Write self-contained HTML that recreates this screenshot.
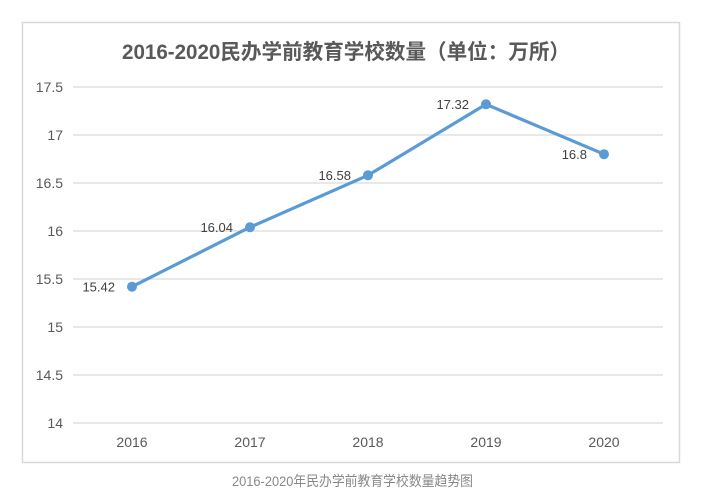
<!DOCTYPE html>
<html>
<head>
<meta charset="utf-8">
<style>
  html, body { margin: 0; padding: 0; background: #ffffff; }
  body { width: 708px; height: 504px; overflow: hidden; }
  svg { display: block; }
  text { font-family: "Liberation Sans", "Noto Sans CJK SC", sans-serif; }
</style>
</head>
<body>
<svg width="708" height="504" viewBox="0 0 708 504" xmlns="http://www.w3.org/2000/svg">
  <rect x="0" y="0" width="708" height="504" fill="#ffffff"/>
  <!-- chart border -->
  <rect x="22.5" y="22.5" width="657" height="440" fill="#ffffff" stroke="#d9d9d9" stroke-width="1.5"/>

  <!-- title -->
  <text x="122" y="59" font-size="21" font-weight="bold" fill="#595959" textLength="448" lengthAdjust="spacingAndGlyphs">2016-2020民办学前教育学校数量（单位：万所）</text>

  <!-- gridlines -->
  <g stroke="#d9d9d9" stroke-width="1.3">
    <line x1="73" y1="87" x2="663" y2="87"/>
    <line x1="73" y1="135" x2="663" y2="135"/>
    <line x1="73" y1="183" x2="663" y2="183"/>
    <line x1="73" y1="231" x2="663" y2="231"/>
    <line x1="73" y1="279" x2="663" y2="279"/>
    <line x1="73" y1="327" x2="663" y2="327"/>
    <line x1="73" y1="375" x2="663" y2="375"/>
    <line x1="73" y1="423" x2="663" y2="423"/>
  </g>

  <!-- y labels -->
  <g font-size="14" fill="#595959" text-anchor="end">
    <text x="63" y="92">17.5</text>
    <text x="63" y="140">17</text>
    <text x="63" y="188">16.5</text>
    <text x="63" y="236">16</text>
    <text x="63" y="284">15.5</text>
    <text x="63" y="332">15</text>
    <text x="63" y="380">14.5</text>
    <text x="63" y="428">14</text>
  </g>

  <!-- x labels -->
  <g font-size="14" fill="#595959" text-anchor="middle">
    <text x="132" y="447">2016</text>
    <text x="250" y="447">2017</text>
    <text x="368" y="447">2018</text>
    <text x="486" y="447">2019</text>
    <text x="604" y="447">2020</text>
  </g>

  <!-- series line -->
  <polyline points="132,286.7 250,227.2 368,175.3 486,104.3 604,154.2" fill="none" stroke="#5b9bd5" stroke-width="3.2" stroke-linejoin="round" stroke-linecap="round"/>
  <g fill="#5b9bd5">
    <circle cx="132" cy="286.7" r="5"/>
    <circle cx="250" cy="227.2" r="5"/>
    <circle cx="368" cy="175.3" r="5"/>
    <circle cx="486" cy="104.3" r="5"/>
    <circle cx="604" cy="154.2" r="5"/>
  </g>

  <!-- data labels -->
  <g font-size="13" fill="#404040" text-anchor="end">
    <text x="115" y="291.5">15.42</text>
    <text x="233" y="232">16.04</text>
    <text x="351" y="180">16.58</text>
    <text x="469" y="109">17.32</text>
    <text x="587" y="159">16.8</text>
  </g>

  <!-- caption -->
  <text x="232" y="486" font-size="14" fill="#888888" textLength="241" lengthAdjust="spacingAndGlyphs">2016-2020年民办学前教育学校数量趋势图</text>
</svg>
</body>
</html>
